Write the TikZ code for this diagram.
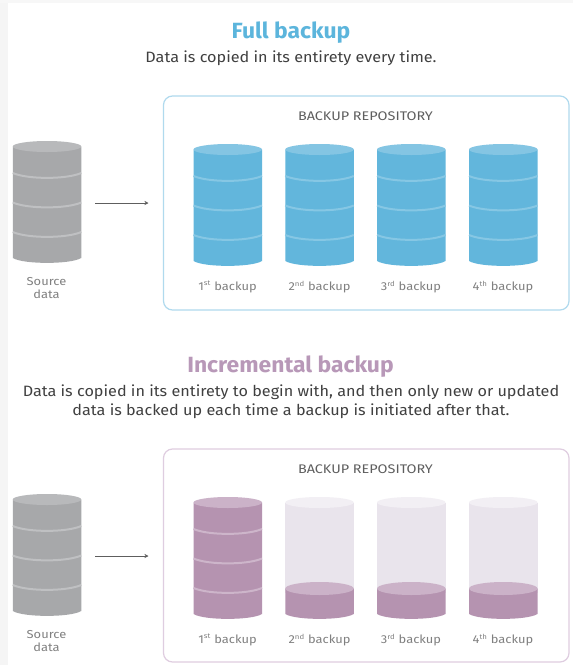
\documentclass[tikz,border=0pt]{standalone}
\usepackage{fontspec}
\setmainfont{Fira Sans}
\usetikzlibrary{arrows.meta}
\definecolor{bluebody}{HTML}{62B6DC}
\definecolor{bluetop}{HTML}{84C5E3}
\definecolor{blueband}{HTML}{86C7E4}
\definecolor{blueedge}{HTML}{B0DAEE}
\definecolor{graybody}{HTML}{A7A8AA}
\definecolor{graytop}{HTML}{B8B9BB}
\definecolor{grayband}{HTML}{BFC0C2}
\definecolor{purpbody}{HTML}{B593B0}
\definecolor{purptop}{HTML}{CBB2C8}
\definecolor{purpband}{HTML}{CDB5CA}
\definecolor{purpedge}{HTML}{DFCDE0}
\definecolor{ghostbody}{HTML}{E9E4EC}
\definecolor{ghosttop}{HTML}{F2EFF4}
\definecolor{titleblue}{HTML}{5CB5DC}
\definecolor{titlepurp}{HTML}{B898B8}
\definecolor{textdark}{HTML}{404040}
\definecolor{textmid}{HTML}{5E5E5E}
\definecolor{textlight}{HTML}{808080}
\tikzset{
  x=1pt,y=-1pt,
  titletext/.style={font=\fontsize{22}{26}\selectfont\bfseries\addfontfeatures{FakeStretch=1.04},inner sep=0pt},
  subtext/.style={font=\fontsize{15}{19}\selectfont\addfontfeatures{FakeStretch=1.08},text=textdark,inner sep=0pt,align=center},
  repotext/.style={font=\fontsize{12.5}{14}\selectfont\addfontfeatures{FakeStretch=1.15},text=textmid,inner sep=0pt},
  smalltext/.style={font=\fontsize{11.5}{13}\selectfont\addfontfeatures{FakeStretch=1.12},text=textlight,inner sep=0pt,align=center},
  repobox/.style={draw,line width=1.2pt,rounded corners=9pt,fill=white},
  flowarrow/.style={draw=textmid,line width=.5pt,-{Stealth[length=4pt,width=4pt]}},
}
% full cylinder: x-left, y of top-ellipse centre, body, top, band
\newcommand{\fullcyl}[5]{%
  \fill[#3] (#1,#2) -- (#1+68.5,#2) -- (#1+68.5,#2+111.5)
     .. controls (#1+58,#2+118) and (#1+10.5,#2+118) .. (#1,#2+111.5) -- cycle;
  \foreach \b in {26.5,56,85.5}{
    \draw[#5,line width=2pt] (#1,#2+\b) .. controls (#1+15,#2+\b+6.5) and (#1+53.5,#2+\b+6.5) .. (#1+68.5,#2+\b);
  }
  \fill[#4] (#1+34.25,#2) ellipse[x radius=34.25,y radius=5.5];
}
% ghost cylinder with low fill level
\newcommand{\lowcyl}[2]{%
  \fill[ghostbody] (#1,#2) rectangle (#1+68.5,#2+90);
  \fill[ghosttop] (#1+34.25,#2) ellipse[x radius=34.25,y radius=5.5];
  \fill[purpbody] (#1,#2+86) -- (#1+68.5,#2+86) -- (#1+68.5,#2+111.5)
     .. controls (#1+58,#2+118) and (#1+10.5,#2+118) .. (#1,#2+111.5) -- cycle;
  \fill[purptop] (#1+34.25,#2+86) ellipse[x radius=34.25,y radius=6.5];
}
\newcommand{\nth}[2]{#1\textsuperscript{\fontsize{7}{7}\selectfont #2} backup}
\begin{document}
\begin{tikzpicture}
\useasboundingbox (0,0) rectangle (573,665);
\fill[white] (0,0) rectangle (573,665);
\fill[black!4] (0,0) rectangle (7.5,665);
\fill[black!3] (0,0) rectangle (573,2.5);

% --- Full backup ---
\node[titletext,text=titleblue] (t1) at (291,33) {Full backup};
\node[subtext] (s1) at (291,58) {Data is copied in its entirety every time.};
\path[repobox,draw=blueedge] (163.5,96) rectangle (569,310);
\node[repotext] (r1) at (365.5,116) {BACKUP REPOSITORY};
\fullcyl{12.75}{146.5}{graybody}{graytop}{grayband}
\node[smalltext] (src1) at (46.5,288.5) {Source\\data};
\coordinate (a1s) at (95,203);
\coordinate (a1e) at (148.5,203);
\draw[flowarrow] (a1s) -- (a1e);
\fullcyl{193.5}{149.5}{bluebody}{bluetop}{blueband}
\fullcyl{285.25}{149.5}{bluebody}{bluetop}{blueband}
\fullcyl{377}{149.5}{bluebody}{bluetop}{blueband}
\fullcyl{469}{149.5}{bluebody}{bluetop}{blueband}
\node[smalltext] (b11) at (227.5,287) {\nth{1}{st}};
\node[smalltext] (b12) at (319.5,287) {\nth{2}{nd}};
\node[smalltext] (b13) at (411,287) {\nth{3}{rd}};
\node[smalltext] (b14) at (503,287) {\nth{4}{th}};

% --- Incremental backup ---
\node[titletext,text=titlepurp] (t2) at (290.5,367) {Incremental backup};
\node[subtext] (s2) at (291,401.5) {Data is copied in its entirety to begin with, and then only new or updated\\data is backed up each time a backup is initiated after that.};
\path[repobox,draw=purpedge] (163.5,449) rectangle (569,662);
\node[repotext] (r2) at (365.5,469) {BACKUP REPOSITORY};
\fullcyl{12.75}{499.5}{graybody}{graytop}{grayband}
\node[smalltext] (src2) at (46.5,641.5) {Source\\data};
\coordinate (a2s) at (95,556);
\coordinate (a2e) at (148.5,556);
\draw[flowarrow] (a2s) -- (a2e);
\fullcyl{193.5}{502.5}{purpbody}{purptop}{purpband}
\lowcyl{285.25}{502.5}
\lowcyl{377}{502.5}
\lowcyl{469}{502.5}
\node[smalltext] (b21) at (227.5,640) {\nth{1}{st}};
\node[smalltext] (b22) at (319.5,640) {\nth{2}{nd}};
\node[smalltext] (b23) at (411,640) {\nth{3}{rd}};
\node[smalltext] (b24) at (503,640) {\nth{4}{th}};
\end{tikzpicture}
\end{document}
